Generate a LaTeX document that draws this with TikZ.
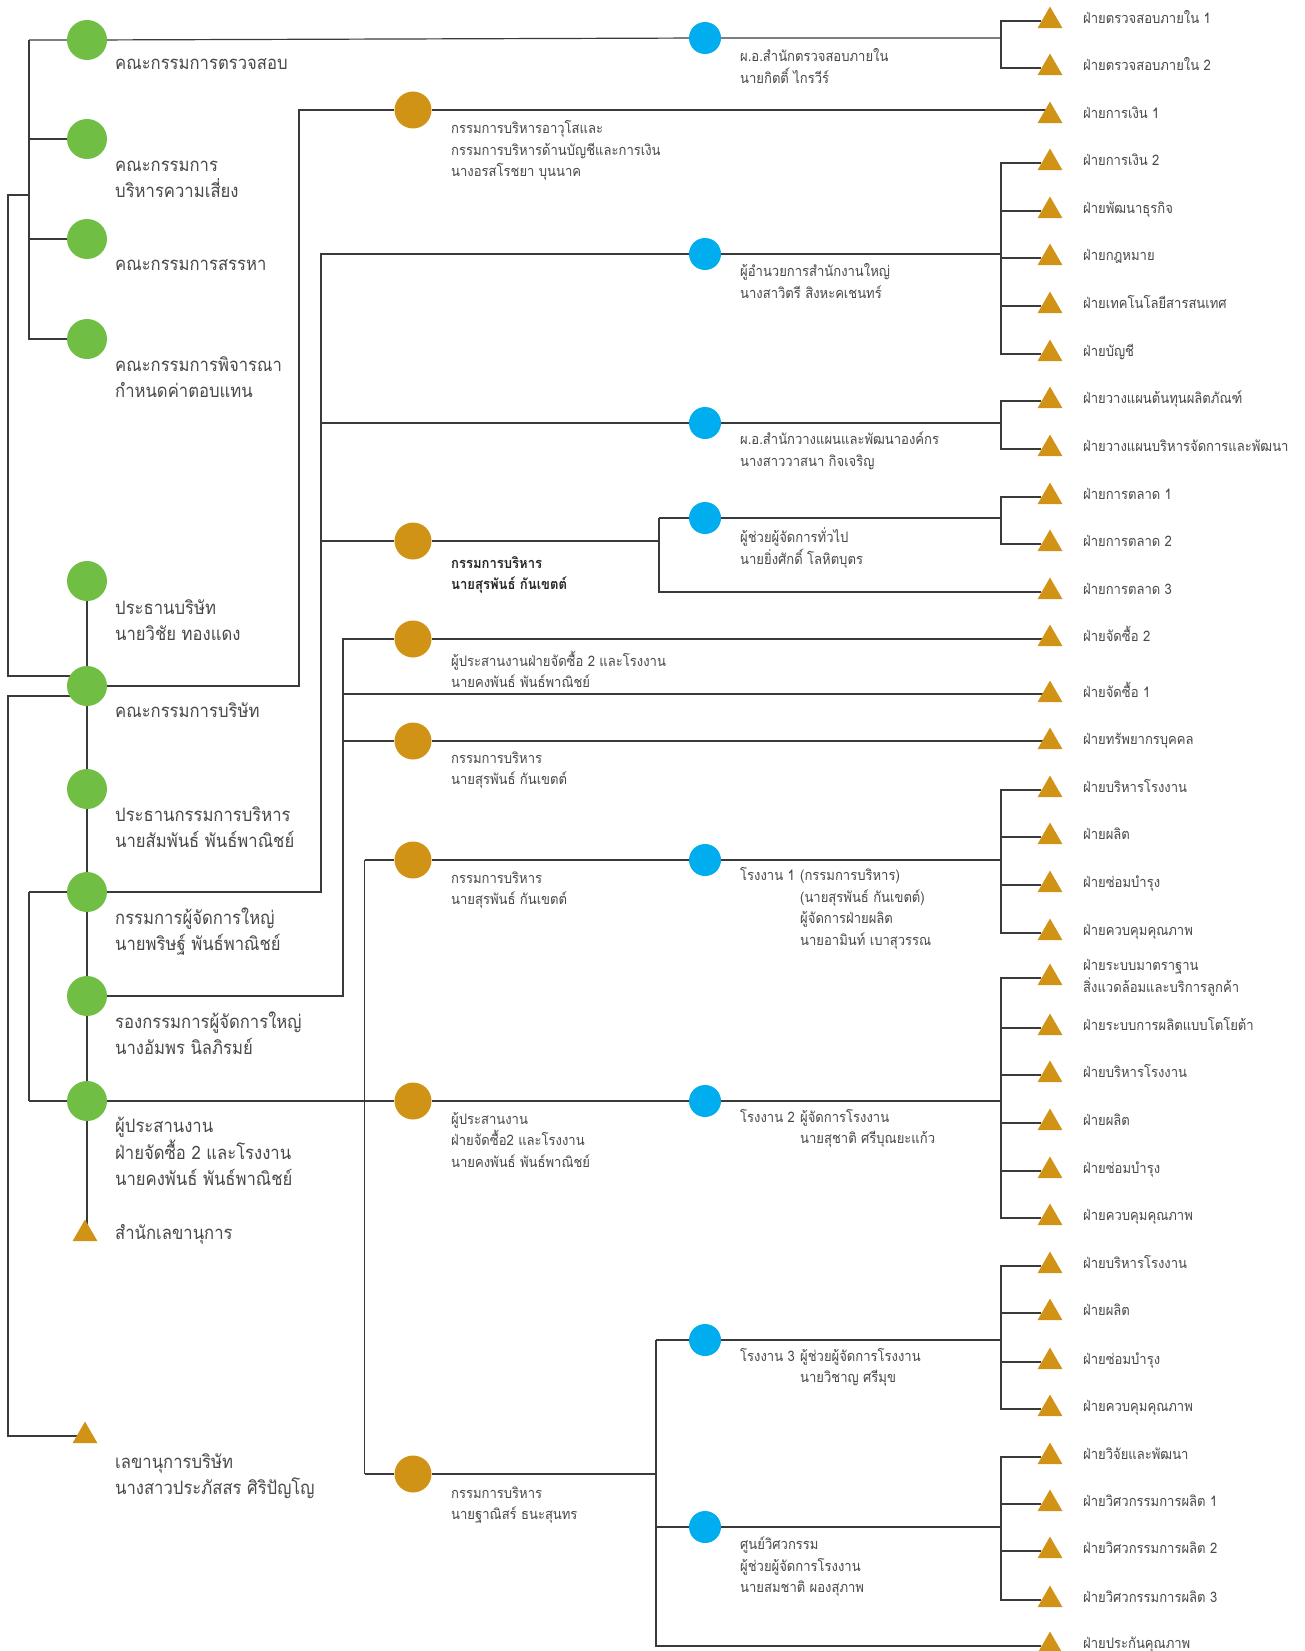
\documentclass[tikz,border=0pt]{standalone}
\usepackage{fontspec}
\setmainfont[Script=Thai,FakeStretch=0.9]{Loma}
\usetikzlibrary{shapes.geometric,backgrounds}
\definecolor{gC}{HTML}{70BF44}
\definecolor{oC}{HTML}{D09316}
\definecolor{bC}{HTML}{00AEEF}
\definecolor{lnC}{HTML}{3A3A3A}
\definecolor{txC}{HTML}{484848}
\newcommand{\ml}[1]{\begin{tabular}[t]{@{}l@{}}#1\end{tabular}}
\newcommand{\mlb}[1]{\begin{tabular}[t]{@{}l@{}l@{}}#1\end{tabular}}
\newcommand{\rg}[1]{\makebox[60pt][l]{#1}}
\begin{document}
\begin{tikzpicture}[x=1pt,y=-1pt,
 gdot/.style={circle,fill=gC,minimum size=40pt,inner sep=0pt},
 odot/.style={circle,fill=oC,minimum size=37pt,inner sep=0pt},
 bdot/.style={circle,fill=bC,minimum size=32pt,inner sep=0pt},
 tri/.style={regular polygon,regular polygon sides=3,fill=oC,minimum size=28.9pt,inner sep=0pt},
 ln/.style={draw=lnC,line width=1.2pt},
 bigt/.style={anchor=base west,inner sep=0pt,text=txC,font=\fontsize{18.5}{26}\selectfont},
 midt/.style={anchor=base west,inner sep=0pt,text=txC,font=\fontsize{14.5}{21.5}\selectfont},
]
\useasboundingbox (0,0) rectangle (1305,1651);
\begin{pgfonlayer}{background}
\fill[white] (0,0) rectangle (1305,1651);
\end{pgfonlayer}

% green circles
\foreach \n/\y in {1/40,2/139,3/239,4/339,5/581,6/686,7/789,8/892,9/996,10/1101}
  \node[gdot] (g\n) at (87,\y) {};
% left triangles
\node[tri] (s1) at (85,1234) {};
\node[tri] (s2) at (85,1436) {};
% orange circles
\foreach \n/\y in {1/110,2/541,3/639,4/741,5/860,6/1101,7/1474}
  \node[odot] (o\n) at (413,\y) {};
% blue circles
\foreach \n/\y in {1/38,2/254,3/423,4/518,5/860,6/1101,7/1340,8/1527}
  \node[bdot] (b\n) at (705,\y) {};
% right triangles and labels
\foreach \n/\y/\t in {1/18/{ฝ่ายตรวจสอบภายใน 1},2/65/{ฝ่ายตรวจสอบภายใน 2},3/113/{ฝ่ายการเงิน 1},
  4/160/{ฝ่ายการเงิน 2},5/208/{ฝ่ายพัฒนาธุรกิจ},6/255/{ฝ่ายกฎหมาย},7/303/{ฝ่ายเทคโนโลยีสารสนเทศ},
  8/351/{ฝ่ายบัญชี},9/398/{ฝ่ายวางแผนต้นทุนผลิตภัณฑ์},10/446/{ฝ่ายวางแผนบริหารจัดการและพัฒนา},
  11/494/{ฝ่ายการตลาด 1},12/541/{ฝ่ายการตลาด 2},13/589/{ฝ่ายการตลาด 3},14/636/{ฝ่ายจัดซื้อ 2},
  15/692/{ฝ่ายจัดซื้อ 1},16/739/{ฝ่ายทรัพยากรบุคคล},17/787/{ฝ่ายบริหารโรงงาน},18/834/{ฝ่ายผลิต},
  19/882/{ฝ่ายซ่อมบำรุง},20/930/{ฝ่ายควบคุมคุณภาพ},22/1025/{ฝ่ายระบบการผลิตแบบโตโยต้า},
  23/1072/{ฝ่ายบริหารโรงงาน},24/1120/{ฝ่ายผลิต},25/1168/{ฝ่ายซ่อมบำรุง},26/1215/{ฝ่ายควบคุมคุณภาพ},
  27/1263/{ฝ่ายบริหารโรงงาน},28/1310/{ฝ่ายผลิต},29/1359/{ฝ่ายซ่อมบำรุง},30/1406/{ฝ่ายควบคุมคุณภาพ},
  31/1454/{ฝ่ายวิจัยและพัฒนา},32/1501/{ฝ่ายวิศวกรรมการผลิต 1},33/1548/{ฝ่ายวิศวกรรมการผลิต 2},
  34/1597/{ฝ่ายวิศวกรรมการผลิต 3},35/1643/{ฝ่ายประกันคุณภาพ}}
{
  \node[tri] (t\n) at (1050,\y+3) {};
  \node[midt] (rt\n) at (1083,\y+5.5) {\ml{\t}};
}
\node[tri] (t21) at (1050,978) {};
\node[midt] (rt21) at (1083,970.5) {\ml{ฝ่ายระบบมาตราฐาน\\สิ่งแวดล้อมและบริการลูกค้า}};

% left labels
\node[bigt] (lg1) at (115,70) {\ml{คณะกรรมการตรวจสอบ}};
\node[bigt] (lg2) at (115,171) {\ml{คณะกรรมการ\\บริหารความเสี่ยง}};
\node[bigt] (lg3) at (115,270) {\ml{คณะกรรมการสรรหา}};
\node[bigt] (lg4) at (115,371) {\ml{คณะกรรมการพิจารณา\\กำหนดค่าตอบแทน}};
\node[bigt] (lg5) at (115,614) {\ml{ประธานบริษัท\\นายวิชัย ทองแดง}};
\node[bigt] (lg6) at (115,717) {\ml{คณะกรรมการบริษัท}};
\node[bigt] (lg7) at (115,821) {\ml{ประธานกรรมการบริหาร\\นายสัมพันธ์ พันธ์พาณิชย์}};
\node[bigt] (lg8) at (115,924) {\ml{กรรมการผู้จัดการใหญ่\\นายพริษฐ์ พันธ์พาณิชย์}};
\node[bigt] (lg9) at (115,1028) {\ml{รองกรรมการผู้จัดการใหญ่\\นางอัมพร นิลภิรมย์}};
\node[bigt] (lg10) at (115,1132) {\ml{ผู้ประสานงาน\\ฝ่ายจัดซื้อ 2 และโรงงาน\\นายคงพันธ์ พันธ์พาณิชย์}};
\node[bigt] (ls1) at (115,1239) {\ml{สำนักเลขานุการ}};
\node[bigt] (ls2) at (115,1468) {\ml{เลขานุการบริษัท\\นางสาวประภัสสร ศิริปัญโญ}};

% orange labels
\node[midt] (lo1) at (451,134) {\ml{กรรมการบริหารอาวุโสและ\\กรรมการบริหารด้านบัญชีและการเงิน\\นางอรสโรชยา บุนนาค}};
\node[midt,font=\fontsize{14.5}{21.5}\selectfont\bfseries,text=black!85] (lo2) at (451,568) {\ml{กรรมการบริหาร\\นายสุรพันธ์ กันเขตต์}};
\node[midt] (lo3) at (451,666) {\ml{ผู้ประสานงานฝ่ายจัดซื้อ 2 และโรงงาน\\นายคงพันธ์ พันธ์พาณิชย์}};
\node[midt] (lo4) at (451,763) {\ml{กรรมการบริหาร\\นายสุรพันธ์ กันเขตต์}};
\node[midt] (lo5) at (451,883) {\ml{กรรมการบริหาร\\นายสุรพันธ์ กันเขตต์}};
\node[midt] (lo6) at (451,1124) {\ml{ผู้ประสานงาน\\ฝ่ายจัดซื้อ2 และโรงงาน\\นายคงพันธ์ พันธ์พาณิชย์}};
\node[midt] (lo7) at (451,1498) {\ml{กรรมการบริหาร\\นายฐาณิสร์ ธนะสุนทร}};

% blue labels
\node[midt] (lb1) at (740,61.5) {\ml{ผ.อ.สำนักตรวจสอบภายใน\\นายกิตติ์ ไกรวีร์}};
\node[midt] (lb2) at (740,276.5) {\ml{ผู้อำนวยการสำนักงานใหญ่\\นางสาวิตรี สิงหะคเชนทร์}};
\node[midt] (lb3) at (740,444.5) {\ml{ผ.อ.สำนักวางแผนและพัฒนาองค์กร\\นางสาววาสนา กิจเจริญ}};
\node[midt] (lb4) at (740,542.5) {\ml{ผู้ช่วยผู้จัดการทั่วไป\\นายยิ่งศักดิ์ โลหิตบุตร}};
\node[midt] (lb5) at (740,880.5) {\mlb{\rg{โรงงาน 1}&(กรรมการบริหาร)\\&(นายสุรพันธ์ กันเขตต์)\\&ผู้จัดการฝ่ายผลิต\\&นายอามินท์ เบาสุวรรณ}};
\node[midt] (lb6) at (740,1122) {\mlb{\rg{โรงงาน 2}&ผู้จัดการโรงงาน\\&นายสุชาติ ศรีบุณยะแก้ว}};
\node[midt] (lb7) at (740,1361) {\mlb{\rg{โรงงาน 3}&ผู้ช่วยผู้จัดการโรงงาน\\&นายวิชาญ ศรีมุข}};
\node[midt] (lb8) at (740,1549.5) {\ml{ศูนย์วิศวกรรม\\ผู้ช่วยผู้จัดการโรงงาน\\นายสมชาติ ผองสุภาพ}};

% connectors
\coordinate (L0) at (8,0);
\coordinate (L1) at (29,0);
\coordinate (V1) at (299,0);
\coordinate (V2) at (321,0);
\coordinate (V4) at (343,0);
\coordinate (V5) at (364.5,0);
\coordinate (V3) at (659,0);
\coordinate (V6) at (656,0);
\coordinate (R) at (1001,0);
\coordinate (k1) at (8,195);
\coordinate (k2) at (8,676);
\coordinate (k3) at (8,696);
\coordinate (k4) at (8,1436);
\coordinate (p15) at (343,694);

\begin{pgfonlayer}{background}
\begin{scope}[ln]
% board committees
\draw (g1 -| L1) -- (g4 -| L1) -- (g4);
\draw (g1 -| L1) -- (g1) -- (b1) -- (b1 -| R);
\draw (g2 -| L1) -- (g2);
\draw (g3 -| L1) -- (g3);
\draw (k1 -| L1) -- (k1) -- (k2) -- (k2 -| g6);
\draw (k3 -| g6) -- (k3) -- (k4) -- (k4 -| s2);
\draw (g5) -- (g5 |- s1);
% right brackets
\draw (t1) -- (t1 -| R) -- (t2 -| R) -- (t2);
\draw (t4) -- (t4 -| R) -- (t8 -| R) -- (t8);
\foreach \k in {5,6,7} \draw (t\k) -- (t\k -| R);
\draw (t9) -- (t9 -| R) -- (t10 -| R) -- (t10);
\draw (t11) -- (t11 -| R) -- (t12 -| R) -- (t12);
\draw (t17) -- (t17 -| R) -- (t20 -| R) -- (t20);
\foreach \k in {18,19} \draw (t\k) -- (t\k -| R);
\draw (t21) -- (t21 -| R) -- (t26 -| R) -- (t26);
\foreach \k in {22,23,24,25} \draw (t\k) -- (t\k -| R);
\draw (t27) -- (t27 -| R) -- (t30 -| R) -- (t30);
\foreach \k in {28,29} \draw (t\k) -- (t\k -| R);
\draw (t31) -- (t31 -| R) -- (t34 -| R) -- (t34);
\foreach \k in {32,33} \draw (t\k) -- (t\k -| R);
% board -> senior exec
\draw (g6) -- (g6 -| V1) -- (o1 -| V1) -- (o1) -- (o1 -| t3);
% MD
\draw (g8) -- (g8 -| V2) -- (b2 -| V2) -- (b2) -- (b2 -| R);
\draw (b3 -| V2) -- (b3) -- (b3 -| R);
\draw (o2 -| V2) -- (o2) -- (o2 -| V3);
\draw (b4 -| V3) -- (t13 -| V3) -- (t13);
\draw (b4 -| V3) -- (b4) -- (b4 -| R);
\draw (g8 -| L1) -- (g10 -| L1);
\draw (g8 -| L1) -- (g8);
% deputy MD
\draw (g9) -- (g9 -| V4) -- (o3 -| V4) -- (o3) -- (o3 -| t14);
\draw (p15) -- (p15 -| t15);
\draw (o4 -| V4) -- (o4) -- (o4 -| t16);
% coordinator
\draw (g10 -| L1) -- (g10) -- (o6) -- (b6) -- (b6 -| R);
\draw (o5 -| V5) -- (o7 -| V5);
\draw (o5 -| V5) -- (o5) -- (b5) -- (b5 -| R);
\draw (o7 -| V5) -- (o7) -- (o7 -| V6);
\draw (b7 -| V6) -- (t35 -| V6) -- (t35);
\draw (b7 -| V6) -- (b7) -- (b7 -| R);
\draw (b8 -| V6) -- (b8) -- (b8 -| R);
\end{scope}
\end{pgfonlayer}
\end{tikzpicture}
\end{document}
